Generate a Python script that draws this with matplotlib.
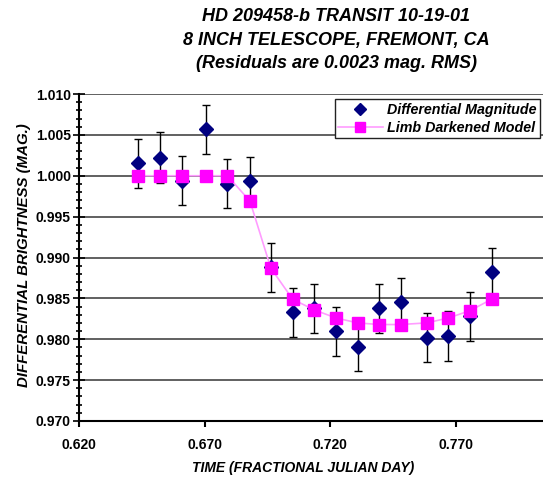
import matplotlib
matplotlib.use("Agg")
import matplotlib.pyplot as plt
from matplotlib.lines import Line2D
from matplotlib.ticker import MultipleLocator, FormatStrFormatter

plt.rcParams['font.family'] = ['Liberation Sans', 'DejaVu Sans']

# fractional julian day of each frame
time = [0.6435, 0.6522, 0.6608, 0.6704, 0.6790, 0.6880, 0.6963, 0.7050, 0.7135,
        0.7223, 0.7309, 0.7395, 0.7480, 0.7584, 0.7670, 0.7757, 0.7843]
# measured differential magnitude
diff_mag = [1.0015, 1.0022, 0.9994, 1.0057, 0.9990, 0.9993, 0.9888, 0.9833, 0.9838,
            0.9810, 0.9791, 0.9838, 0.9845, 0.9802, 0.9804, 0.9828, 0.9882]
mag_err = [0.0030, 0.0031, 0.0030, 0.0030, 0.0030, 0.0030, 0.0030, 0.0030, 0.0030,
           0.0030, 0.0030, 0.0030, 0.0030, 0.0030, 0.0030, 0.0030, 0.0030]
# limb darkened model
model = [1.0000, 1.0000, 1.0000, 1.0000, 1.0000, 0.9969, 0.9887, 0.9849, 0.9836,
         0.9826, 0.9820, 0.9818, 0.9818, 0.9820, 0.9826, 0.9835, 0.9849]

x_ticks = [0.620, 0.670, 0.720, 0.770]

fig = plt.figure(figsize=(5.43, 4.79), dpi=100)
ax = fig.add_axes([79.3 / 543, 1 - 421 / 479, 1 - 79.3 / 543, (421 - 94) / 479])

ax.errorbar(time, diff_mag, yerr=mag_err, fmt='D', color='#000080', ms=7,
            ecolor='black', elinewidth=1, capsize=3, capthick=1, zorder=3)
ax.plot(time, model, '-', color='#FF9CFF', lw=1.2, zorder=4)
ax.plot(time, model, 's', color='#FF00FF', ms=8, mec='#FF00FF', zorder=5)

ax.set_xlim(0.620, 0.620 + (543 - 79.3) / 2510)
ax.set_ylim(0.970, 1.010)
ax.set_xticks(x_ticks)
ax.xaxis.set_major_formatter(FormatStrFormatter('%.3f'))
ax.yaxis.set_major_locator(MultipleLocator(0.005))
ax.yaxis.set_minor_locator(MultipleLocator(0.001))
ax.yaxis.set_major_formatter(FormatStrFormatter('%.3f'))

ax.grid(axis='y', which='major', color='#606060', lw=1.4, zorder=0)
ax.set_axisbelow(True)
ax.spines['top'].set_visible(False)
ax.spines['right'].set_visible(False)
ax.spines['left'].set_linewidth(1.5)
ax.spines['bottom'].set_linewidth(1.5)

ax.tick_params(axis='x', direction='out', length=4, width=1.5, pad=8)
ax.tick_params(axis='y', which='major', direction='inout', length=8, width=1.2, pad=2)
ax.tick_params(axis='y', which='minor', direction='inout', length=5, width=1.2)
for lbl in ax.get_xticklabels() + ax.get_yticklabels():
    lbl.set_fontweight('bold')
    lbl.set_fontsize(10)

handles = [Line2D([], [], marker='D', color='#000080', ls='none', ms=6),
           Line2D([], [], marker='s', color='#FF9CFF', mfc='#FF00FF', mec='#FF00FF', ms=7, lw=1.2)]
leg = fig.legend(handles, ['Differential Magnitude', 'Limb Darkened Model'],
                 loc='upper right', bbox_to_anchor=(540 / 543, 1 - 99 / 479),
                 prop={'weight': 'bold', 'style': 'italic', 'size': 10.3},
                 fancybox=False, framealpha=1, edgecolor='#222222', borderaxespad=0,
                 handlelength=3.1, borderpad=0.25, labelspacing=0.3, handletextpad=0.3)
leg.get_frame().set_linewidth(1)

fig.text(336 / 543, 1 - 40 / 479,
         'HD 209458-b TRANSIT 10-19-01\n8 INCH TELESCOPE, FREMONT, CA\n(Residuals are 0.0023 mag. RMS)',
         ha='center', va='center', fontsize=13, fontweight='bold', fontstyle='italic',
         linespacing=1.5)
fig.text(303 / 543, 1 - 468 / 479, 'TIME (FRACTIONAL JULIAN DAY)', ha='center', va='center',
         fontsize=10, fontweight='bold', fontstyle='italic')
fig.text(24 / 543, 1 - 255 / 479, 'DIFFERENTIAL BRIGHTNESS (MAG.)', ha='center', va='center',
         rotation=90, fontsize=10.8, fontweight='bold', fontstyle='italic')

fig.savefig('out.png', dpi=100)
